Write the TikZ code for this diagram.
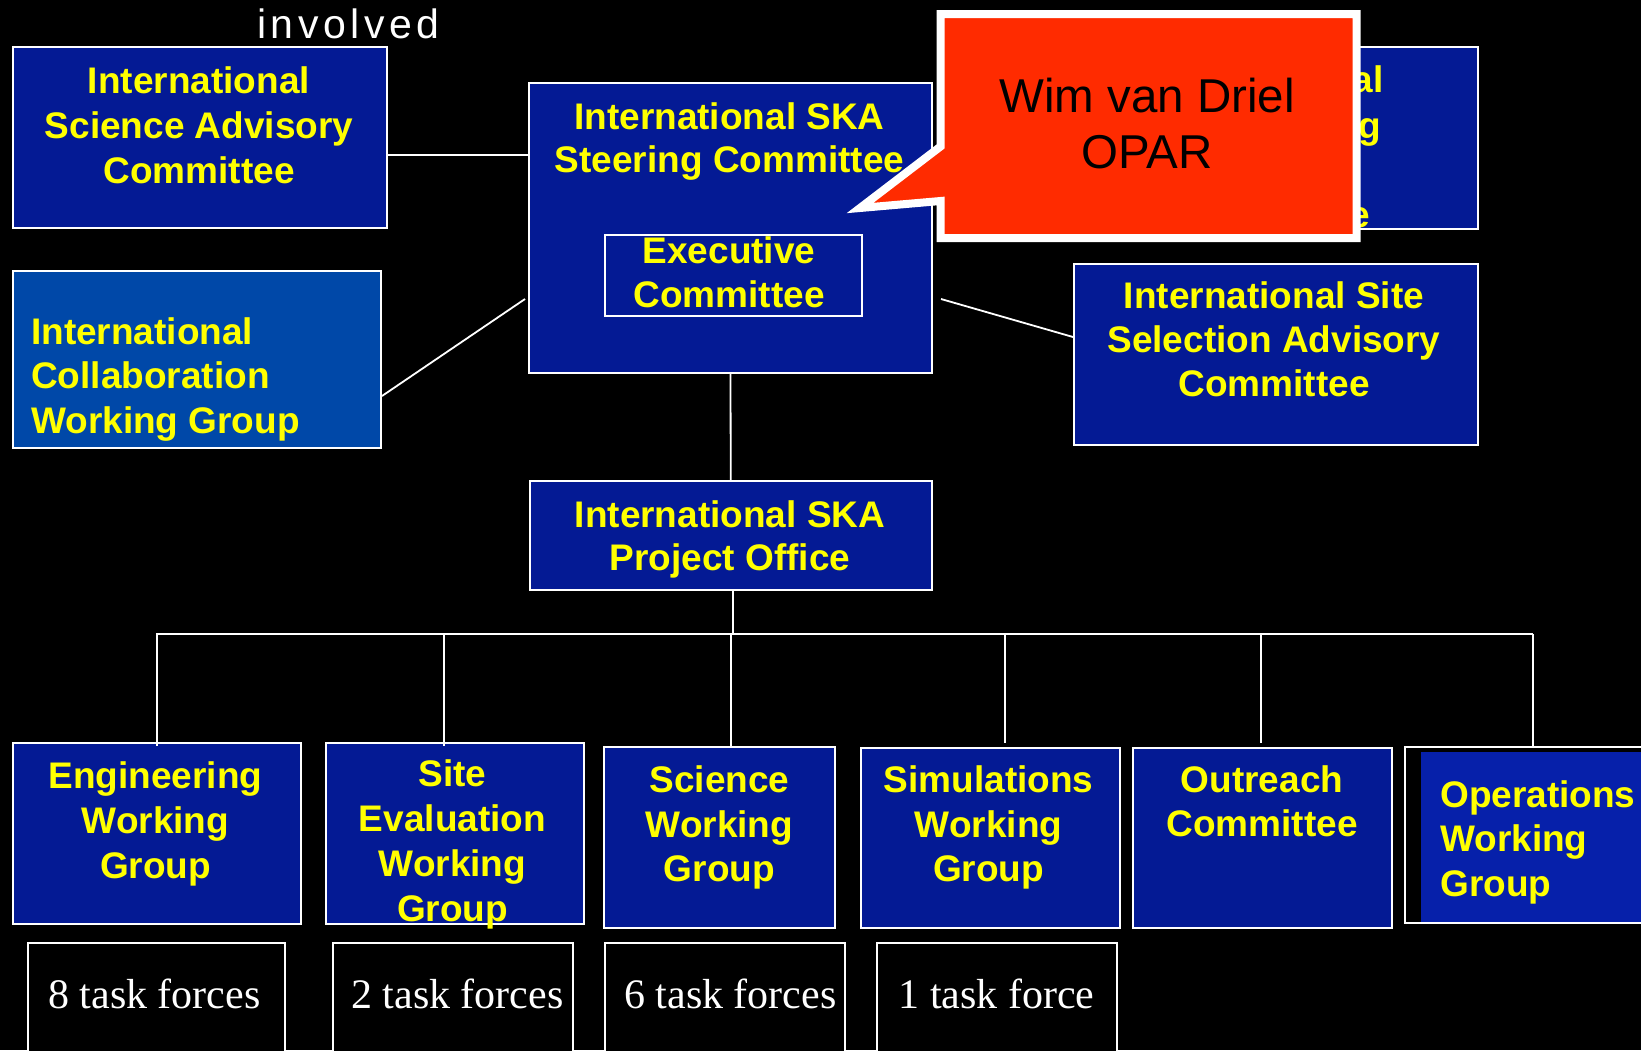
\documentclass[tikz,border=0pt]{standalone}
\usepackage{fontspec}
\setmainfont{Liberation Sans}
\newfontfamily\serifTF{Liberation Serif}
\newfontfamily\spacedsans[LetterSpace=11]{Liberation Sans}
\usetikzlibrary{calc}
\definecolor{navy}{RGB}{4,26,148}
\definecolor{icwgblue}{RGB}{0,72,168}
\definecolor{opsblue}{RGB}{6,32,170}
\definecolor{callred}{RGB}{255,43,0}
\definecolor{labelyellow}{RGB}{255,255,0}
\tikzset{
  box/.style={draw=white, line width=2pt, fill=navy, anchor=north west, inner sep=0pt},
  tbox/.style={draw=white, line width=2pt, fill=black, anchor=north west, inner sep=0pt, minimum height=200pt},
  ylab/.style={text=labelyellow, font=\fontsize{37}{44.5}\selectfont\bfseries, align=center, anchor=base, inner sep=0pt},
  tflab/.style={text=white, font=\serifTF\fontsize{42}{42}\selectfont, anchor=base west, inner sep=0pt},
  conn/.style={draw=white, line width=1.8pt},
}
\begin{document}
\begin{tikzpicture}[x=1pt,y=-1pt]
\useasboundingbox (0,0) rectangle (1641,1050);
\clip (0,0) rectangle (1641,1050);
\fill[black] (0,0) rectangle (1641,1050);

% title fragment
\node[anchor=base west, text=white, font=\spacedsans\fontsize{41}{41}\selectfont, inner sep=0pt] (title) at (257,38) {involved};

% hidden box behind callout
\node[box, minimum width=402pt, minimum height=182pt] (hid) at (1075,46) {};
\node[ylab, anchor=base east] (hid1) at (1384,92) {al};
\node[ylab, anchor=base east] (hid2) at (1381,138) {g};
\node[ylab, anchor=base east] (hid4) at (1370,227) {e};

% top-level boxes (label positions are last-line baselines)
\node[box, minimum width=374pt, minimum height=181pt] (isac) at (12,46) {};
\node[ylab, font=\fontsize{37}{45}\selectfont\bfseries] (isact) at (199,183) {International\\Science Advisory\\Committee};

\node[box, minimum width=403pt, minimum height=290pt] (issc) at (528,82) {};
\node[ylab, font=\fontsize{37}{43}\selectfont\bfseries] (issct) at (729.5,172) {International SKA\\Steering Committee};
\node[box, line width=1.5pt, minimum width=257pt, minimum height=81pt] (exec) at (604,234) {};
\node[ylab, font=\fontsize{37}{44}\selectfont\bfseries] (exect) at (729,307) {Executive\\Committee};

\node[box, minimum width=404pt, minimum height=181pt] (issac) at (1073,263) {};
\node[ylab, font=\fontsize{37}{44}\selectfont\bfseries] (issact) at (1274,396.5) {International Site\\Selection Advisory\\Committee};

\node[box, fill=icwgblue, minimum width=368pt, minimum height=177pt] (icwg) at (12,270) {};
\node[ylab, align=left, anchor=base west] (icwgt) at (31,433) {International\\Collaboration\\Working Group};

\node[box, minimum width=402.5pt, minimum height=109pt] (po) at (528.5,480) {};
\node[ylab, font=\fontsize{37}{43}\selectfont\bfseries] (pot) at (730,570) {International SKA\\Project Office};

% working groups
\node[box, minimum width=288pt, minimum height=181pt] (eng) at (12,741.7) {};
\node[ylab, font=\fontsize{37}{45}\selectfont\bfseries] (engt) at (155.5,878) {Engineering\\Working\\Group};

\node[box, minimum width=257.8pt, minimum height=181pt] (site) at (324.7,741.7) {};
\node[ylab, font=\fontsize{37}{44.7}\selectfont\bfseries] (sitet) at (452.5,921) {Site\\Evaluation\\Working\\Group};

\node[box, minimum width=230.4pt, minimum height=181.3pt] (sci) at (603.4,746) {};
\node[ylab] (scit) at (719.4,881.7) {Science\\Working\\Group};

\node[box, minimum width=259.2pt, minimum height=180.3pt] (sim) at (859.8,746.7) {};
\node[ylab] (simt) at (988.6,881.7) {Simulations\\Working\\Group};

\node[box, minimum width=258.7pt, minimum height=180.3pt] (out) at (1132,746.7) {};
\node[ylab, font=\fontsize{37}{44}\selectfont\bfseries] (outt) at (1262,836.7) {Outreach\\Committee};

\fill[opsblue] (1420.5,751.7) rectangle (1700,924);
\node[box, fill=none, minimum width=300pt, minimum height=176.3pt] (ops) at (1404,746) {};
\node[ylab, align=left, anchor=base west] (opst) at (1440,896) {Operations\\Working\\Group};

% task force boxes
\node[tbox, minimum width=256.6pt] (t8) at (27.4,942.3) {};
\node[tflab] (t8t) at (48,1008) {8 task forces};
\node[tbox, minimum width=240pt] (t2) at (332,942.3) {};
\node[tflab] (t2t) at (351,1008) {2 task forces};
\node[tbox, minimum width=239.7pt] (t6) at (604,942.3) {};
\node[tflab] (t6t) at (624,1008) {6 task forces};
\node[tbox, minimum width=240.3pt] (t1) at (876,942.3) {};
\node[tflab] (t1t) at (898.5,1008) {1 task force};

% connectors
\draw[conn] ([yshift=-17.5pt]isac.east) coordinate (c1) -- (c1 -| issc.west);
\draw[conn] ([yshift=-36.5pt]icwg.east) -- ([xshift=-3pt,yshift=-71pt]issc.west);
\draw[conn] ([xshift=8pt,yshift=-71pt]issc.east) -- ([yshift=17.5pt]issac.west);
\draw[conn] (issc.south) -- (po.north);
\coordinate (busL) at (155.8,634.3);
\coordinate (busR) at (1532.6,634.3);
\draw[conn] (busL) -- (busR);
\draw[conn] ([xshift=2pt]po.south) -- ([xshift=2pt]po.south |- busL);
\draw[conn] (eng.north |- busL) -- ([yshift=-4pt]eng.north);
\draw[conn] ([xshift=-10.9pt]site.north |- busL) -- ([xshift=-10.9pt,yshift=-4pt]site.north);
\draw[conn] ([xshift=11pt]sci.north |- busL) -- ([xshift=11pt]sci.north);
\draw[conn] ([xshift=14.9pt]sim.north |- busL) -- ([xshift=14.9pt,yshift=3.4pt]sim.north);
\draw[conn] ([xshift=-1.5pt]out.north |- busL) -- ([xshift=-1.5pt,yshift=3.7pt]out.north);
\draw[conn] (busR) -- (busR |- ops.north);

% callout
\path[draw=white, line width=8pt, fill=callred, line join=miter]
  (940.5,14) -- (1356.5,14) -- (1356.5,238) -- (940.5,238) -- (940.5,201)
  -- (860,208) -- (940.5,146.5) -- cycle;
\node[anchor=base, align=center, inner sep=0pt, text=black, font=\fontsize{47.5}{56}\selectfont] (wim) at (1147,168) {Wim van Driel\\OPAR};
\end{tikzpicture}
\end{document}
